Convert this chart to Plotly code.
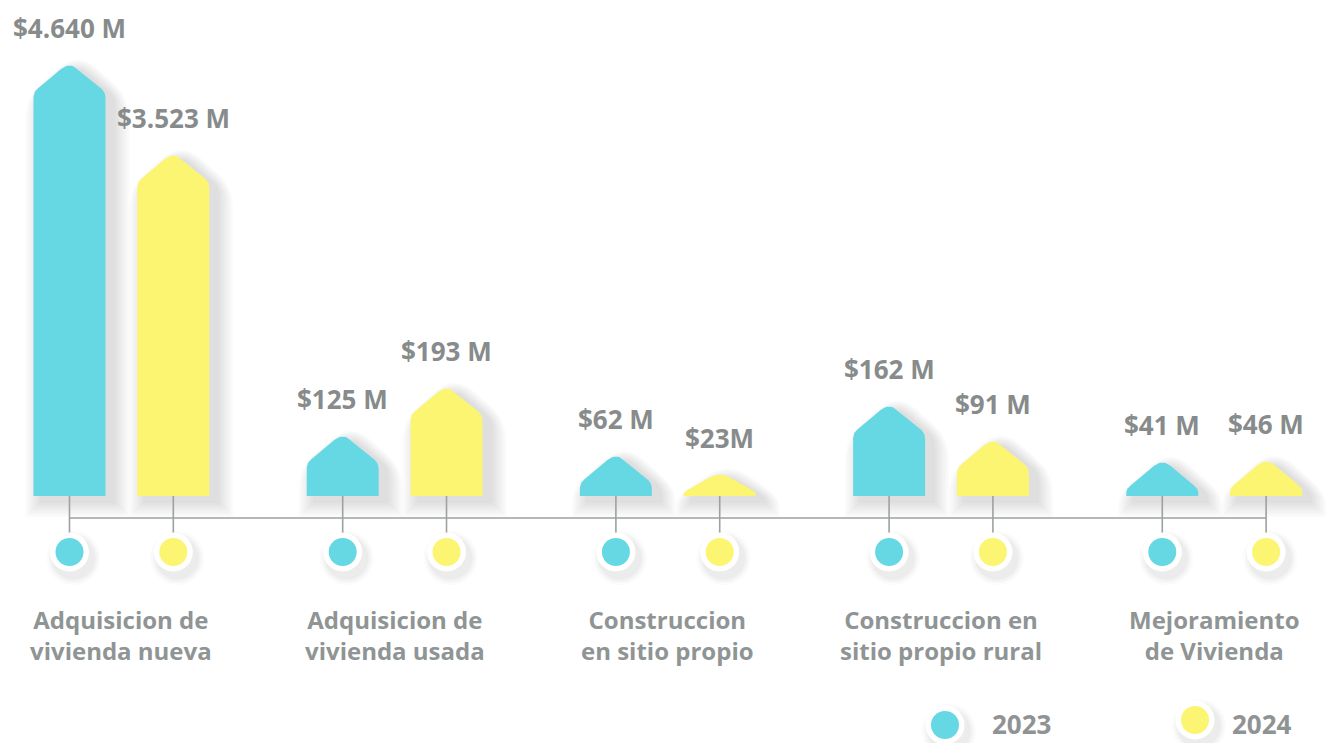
import numpy as np
import plotly.graph_objects as go

# ---------------- data ----------------
categories = [
    "Adquisicion de<br>vivienda nueva",
    "Adquisicion de<br>vivienda usada",
    "Construccion<br>en sitio propio",
    "Construccion en<br>sitio propio rural",
    "Mejoramiento<br>de Vivienda",
]
series_names = ["2023", "2024"]
values_2023 = [4640, 125, 62, 162, 41]          # millions
values_2024 = [3523, 193, 23, 91, 46]
labels_2023 = ["$4.640 M", "$125 M", "$62 M", "$162 M", "$41 M"]
labels_2024 = ["$3.523 M", "$193 M", "$23M", "$91 M", "$46 M"]
# the infographic is not drawn to scale: bar heights as drawn
height_2023 = [434, 63, 43, 93, 37]
height_2024 = [344, 111, 24, 58, 38]
colors = ["#66D8E3", "#FCF571"]

# ---------------- geometry helpers ----------------
W, H = 1341, 743
PX_X = 273.2          # pixels per category unit
X0_PX = 121.4         # pixel of category 0
BASE_PX = 496         # pixel row of bar base (y = 0)
OFFSET = 0.19         # half distance between paired bars (category units)
HALF_W = 36           # bar half width in px
TEXT = "#878B8B"
FONT = "Open Sans"


def xpx(px):
    return (px - X0_PX) / PX_X


def ypx(py):
    return BASE_PX - py


def rounded(points, radii, n=9):
    out = []
    N = len(points)
    for i in range(N):
        p = np.array(points[i], float)
        r = radii[i]
        if r == 0:
            out.append(p)
            continue
        a = np.array(points[i - 1], float)
        b = np.array(points[(i + 1) % N], float)
        va, vb = a - p, b - p
        la, lb = np.linalg.norm(va), np.linalg.norm(vb)
        t1, t2 = min(r, la * 0.45), min(r, lb * 0.45)
        p1, p2 = p + va / la * t1, p + vb / lb * t2
        for s in np.linspace(0, 1, n):
            out.append((1 - s) ** 2 * p1 + 2 * (1 - s) * s * p + s ** 2 * p2)
    out.append(out[0])
    return np.array(out)


def house(h, expand=0.0, dx=0.0, dy=0.0):
    w = HALF_W + expand
    r = min(30, h - 4)
    pts = [(-w + dx, -expand + dy), (w + dx, -expand + dy), (w + dx, h - r + dy),
           (dx, h + expand + dy), (-w + dx, h - r + dy)]
    return rounded(pts, [0, 0, 6 + expand, 11 + expand, 6 + expand])


fig = go.Figure()

n = len(categories)
bars = []
for s, (heights, labels, vals) in enumerate(
        [(height_2023, labels_2023, values_2023), (height_2024, labels_2024, values_2024)]):
    for i in range(n):
        xc = i + (-OFFSET if s == 0 else OFFSET)
        bars.append((s, xc, heights[i], labels[i], vals[i]))

# soft shadows of bars
for s, xc, h, lab, v in bars:
    for k in range(1, 9):
        poly = house(h, expand=2.0 * k, dx=8, dy=-5)
        fig.add_trace(go.Scatter(
            x=xc + poly[:, 0] / PX_X, y=poly[:, 1], mode="lines", fill="toself",
            fillcolor="rgba(40,40,40,0.02)", line=dict(width=0), hoverinfo="skip"))

# axis line and ticks
centers = sorted(b[1] for b in bars)
fig.add_trace(go.Scatter(x=[centers[0], centers[-1]], y=[ypx(518), ypx(518)], mode="lines",
                         line=dict(color="#9DA1A1", width=1.6), hoverinfo="skip"))
tx, ty = [], []
for c in centers:
    tx += [c, c, None]
    ty += [0, ypx(534), None]
fig.add_trace(go.Scatter(x=tx, y=ty, mode="lines", line=dict(color="#9DA1A1", width=1.6),
                         hoverinfo="skip"))

# bars
for s, xc, h, lab, v in bars:
    poly = house(h)
    fig.add_trace(go.Scatter(
        x=xc + poly[:, 0] / PX_X, y=poly[:, 1], mode="lines", fill="toself",
        fillcolor=colors[s], line=dict(width=0), name=series_names[s],
        text=f"{series_names[s]}: {lab}", hoveron="fills", hoverinfo="text"))
    fig.add_annotation(x=xc, y=h + 34, text=f"<b>{lab}</b>", showarrow=False,
                       font=dict(family=FONT, size=26, color=TEXT), yanchor="middle")


# circles under ticks
def dots(xs, ys, color):
    for size, alpha in [(54, 0.02), (49, 0.03), (44, 0.04)]:
        fig.add_trace(go.Scatter(x=[x + 4 / PX_X for x in xs], y=[y - 6 for y in ys],
                                 mode="markers", hoverinfo="skip",
                                 marker=dict(size=size, color=f"rgba(40,40,40,{alpha})",
                                             line=dict(width=0))))
    fig.add_trace(go.Scatter(x=xs, y=ys, mode="markers", hoverinfo="skip",
                             marker=dict(size=39, color="white", line=dict(width=0))))
    fig.add_trace(go.Scatter(x=xs, y=ys, mode="markers", hoverinfo="skip",
                             marker=dict(size=28, color=color, line=dict(width=0))))


for s in range(2):
    xs = [b[1] for b in bars if b[0] == s]
    dots(xs, [ypx(552)] * len(xs), colors[s])

# category labels
for i, cat in enumerate(categories):
    fig.add_annotation(x=i, y=ypx(635), text=f"<b>{cat}</b>", showarrow=False,
                       font=dict(family=FONT, size=24, color="#8F9494"),
                       yanchor="middle", align="center")

# custom legend
legend_pos = [(945, 725), (1195, 720)]
legend_text_x = [1021, 1262]
for s in range(2):
    px, py = legend_pos[s]
    dots([xpx(px)], [ypx(py)], colors[s])
    fig.add_annotation(x=xpx(legend_text_x[s]), y=ypx(724), text=f"<b>{series_names[s]}</b>",
                       showarrow=False, font=dict(family=FONT, size=26, color="#8F9393"),
                       yanchor="middle")

fig.update_layout(
    width=W, height=H, margin=dict(l=0, r=0, t=0, b=0),
    paper_bgcolor="white", plot_bgcolor="white", showlegend=False,
    xaxis=dict(range=[xpx(0), xpx(W)], visible=False, fixedrange=True),
    yaxis=dict(range=[ypx(H), ypx(0)], visible=False, fixedrange=True),
)

fig.write_html("out.html", config={"displayModeBar": False},
               post_script="document.body.style.margin='0';")
